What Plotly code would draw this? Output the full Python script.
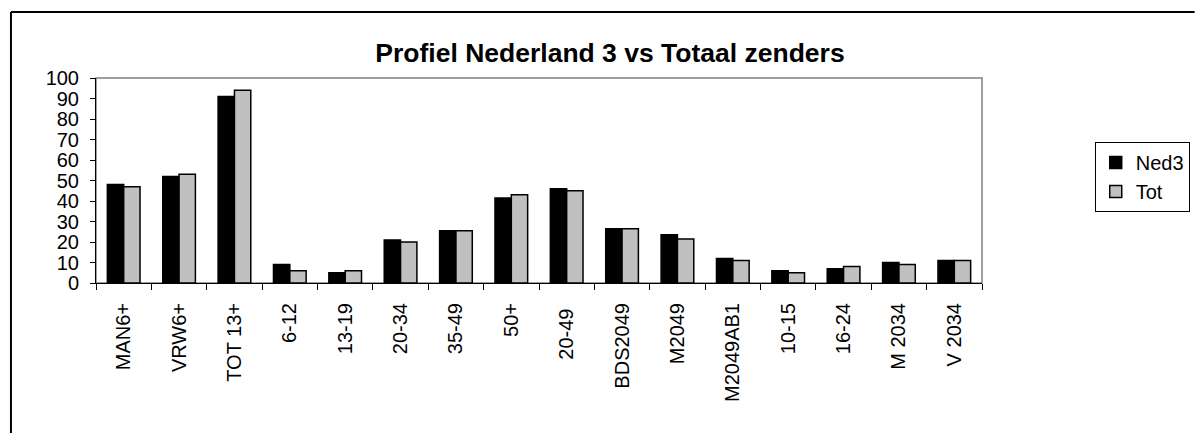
import plotly.graph_objects as go

categories = ["MAN6+", "VRW6+", "TOT 13+", "6-12", "13-19", "20-34", "35-49", "50+",
              "20-49 ", "BDS2049", "M2049", "M2049AB1", "10-15", "16-24", "M 2034", "V 2034"]
ned3 = [48, 52, 91, 9, 5, 21, 25.5, 41.5, 46, 26.5, 23.5, 12, 6, 7, 10, 11]
tot = [47, 53, 94, 6, 6, 20, 25.5, 43, 45, 26.5, 21.5, 11, 5, 8, 9, 11]
series_names = ["Ned3", "Tot"]

W, H = 1202, 433
L, R, T, B = 96, 992, 78, 283
FONT = "Arial, Liberation Sans, sans-serif"

fig = go.Figure()
fig.add_trace(go.Bar(x=categories, y=ned3, name=series_names[0],
                     marker=dict(color="#000000", line=dict(color="#000000", width=1.5))))
fig.add_trace(go.Bar(x=categories, y=tot, name=series_names[1],
                     marker=dict(color="#C0C0C0", line=dict(color="#000000", width=1.5))))

pw, ph = R - L, B - T


def px2paper_x(px):
    return (px - L) / pw


def px2paper_y(py):
    return (B - py) / ph


fig.update_layout(
    width=W, height=H,
    margin=dict(l=L, r=W - R, t=T, b=H - B, pad=0),
    paper_bgcolor="white", plot_bgcolor="white",
    font=dict(family=FONT, size=20, color="black"),
    barmode="group", bargap=0.41, bargroupgap=0,
    title=dict(text="<b>Profiel Nederland 3 vs Totaal zenders</b>",
               font=dict(family=FONT, size=26.5, color="black"),
               x=610 / W, xref="container", xanchor="center",
               y=1 - 53 / H, yref="container", yanchor="middle"),
    showlegend=True,
    legend=dict(x=px2paper_x(1106), y=px2paper_y(142), xanchor="left", yanchor="top",
                bordercolor="black", borderwidth=1, bgcolor="white",
                font=dict(family=FONT, size=20, color="black"),
                itemwidth=30, tracegroupgap=0),
    xaxis=dict(type="category", tickangle=-90, ticks="outside", ticklen=6,
               tickcolor="black", tickson="boundaries", showline=True,
               linecolor="black", linewidth=1, showgrid=False, ticklabelstandoff=11,
               tickfont=dict(family=FONT, size=20, color="black")),
    yaxis=dict(range=[0, 100], dtick=10, tick0=0, ticks="outside", ticklen=5,
               tickcolor="black", showline=True, linecolor="black", linewidth=1,
               showgrid=False, zeroline=False, ticklabelstandoff=7,
               tickfont=dict(family=FONT, size=20, color="black")),
)

# plot-area border (gray), drawn below the black axis lines
fig.add_shape(type="rect", xref="paper", yref="paper", x0=0, x1=1, y0=0, y1=1,
              line=dict(color="#808080", width=1.5), layer="below")
# outer chart frame (top and left edges visible)
fig.add_shape(type="line", xref="paper", yref="paper",
              x0=px2paper_x(10), x1=px2paper_x(W + 5), y0=px2paper_y(12), y1=px2paper_y(12),
              line=dict(color="black", width=2))
fig.add_shape(type="line", xref="paper", yref="paper",
              x0=px2paper_x(10), x1=px2paper_x(10), y0=px2paper_y(12), y1=px2paper_y(H + 5),
              line=dict(color="black", width=2))

fig.write_html("out.html", config={"displayModeBar": False},
               post_script="document.body.style.margin='0px';")
